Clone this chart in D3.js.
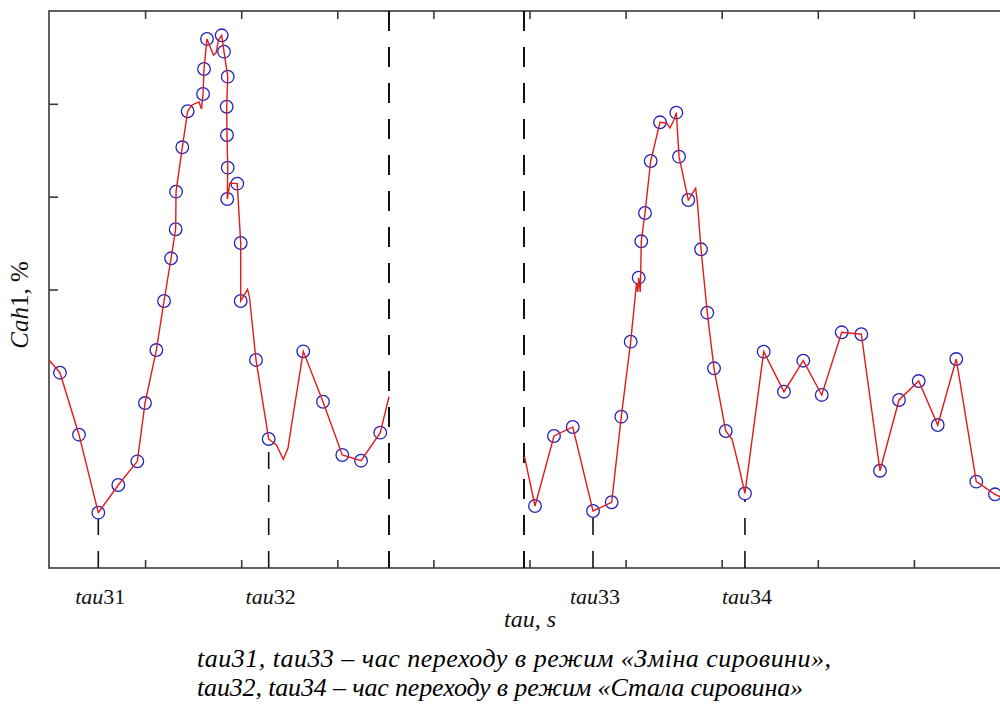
<!DOCTYPE html>
<html>
<head>
<meta charset="utf-8">
<script src="https://cdn.jsdelivr.net/npm/d3@7"></script>
<style>
  body { margin: 0; background: #fff; }
  svg { display: block; font-family: 'Liberation Serif', 'Times New Roman', serif; }
</style>
</head>
<body>
<svg id="chart" width="1000" height="704"></svg>
<script>
// x in tick units (one tick step = 1), y in Cah1 units (one tick step = 1)

// left part: sampled points (blue circles)
const sampleLeftT = [0.114, 0.312, 0.513, 0.721, 0.919, 0.999, 1.117, 1.197, 1.270, 1.318, 1.322,
  1.387, 1.443, 1.603, 1.613, 1.644, 1.797, 1.821, 1.860, 1.849, 1.852, 1.860, 1.855, 1.959,
  1.995, 1.995, 2.154, 2.286, 2.646, 2.851, 3.052, 3.247, 3.447]
const sampleLeftC = [2.104, 1.436, 0.596, 0.894, 1.149, 1.777, 2.348, 2.876, 3.336, 3.649, 4.054,
  4.532, 4.920, 5.106, 5.375, 5.699, 5.738, 5.562, 5.293, 4.969, 4.664, 4.312, 3.975, 4.140,
  3.501, 2.876, 2.241, 1.390, 2.334, 1.791, 1.217, 1.156, 1.458]

// left part: measured signal (red line)
const signalLeftT = [0.000, 0.114, 0.312, 0.513, 0.721, 0.919, 0.999, 1.117, 1.197, 1.270, 1.318,
  1.322, 1.387, 1.443, 1.488, 1.561, 1.587, 1.603, 1.613, 1.644, 1.712, 1.738, 1.764, 1.797,
  1.821, 1.860, 1.849, 1.852, 1.860, 1.855, 1.883, 1.959, 1.995, 1.995, 2.066, 2.086, 2.154,
  2.286, 2.367, 2.438, 2.487, 2.529, 2.646, 2.851, 3.052, 3.247, 3.447, 3.538]
const signalLeftC = [2.241, 2.104, 1.436, 0.596, 0.894, 1.149, 1.777, 2.348, 2.876, 3.336, 3.649,
  4.054, 4.532, 4.920, 4.988, 5.020, 4.945, 5.106, 5.375, 5.699, 5.526, 5.548, 5.688, 5.738,
  5.562, 5.293, 4.969, 4.664, 4.312, 3.975, 4.147, 4.140, 3.501, 2.876, 3.002, 2.919, 2.241,
  1.390, 1.325, 1.171, 1.293, 1.573, 2.334, 1.791, 1.217, 1.156, 1.458, 1.845]

// right part: sampled points (blue circles)
const sampleRightT = [5.057, 5.255, 5.450, 5.661, 5.855, 5.955, 6.053, 6.136, 6.163, 6.202, 6.261,
  6.358, 6.528, 6.556, 6.652, 6.785, 6.850, 6.920, 7.042, 7.242, 7.437, 7.648, 7.849, 8.041,
  8.249, 8.453, 8.647, 8.845, 9.050, 9.248, 9.441, 9.649, 9.844]
const sampleRightC = [0.668, 1.422, 1.519, 0.614, 0.708, 1.630, 2.438, 3.127, 3.519, 3.824, 4.384,
  4.801, 4.905, 4.431, 3.964, 3.433, 2.750, 2.151, 1.476, 0.803, 2.330, 1.899, 2.233, 1.864,
  2.539, 2.518, 1.048, 1.810, 2.014, 1.540, 2.251, 0.930, 0.794]

// right part: measured signal (red line)
const signalRightT = [4.948, 5.057, 5.255, 5.450, 5.661, 5.855, 5.955, 6.053, 6.113, 6.127, 6.136,
  6.153, 6.163, 6.202, 6.261, 6.358, 6.426, 6.462, 6.498, 6.528, 6.556, 6.652, 6.729, 6.748,
  6.785, 6.850, 6.920, 7.042, 7.107, 7.170, 7.242, 7.437, 7.648, 7.849, 8.041, 8.249, 8.453,
  8.647, 8.845, 9.050, 9.248, 9.441, 9.649, 9.844, 9.927]
const signalRightC = [1.199, 0.668, 1.422, 1.519, 0.614, 0.708, 1.630, 2.438, 3.059, 2.973, 3.127,
  2.973, 3.519, 3.824, 4.384, 4.801, 4.794, 4.740, 4.815, 4.905, 4.431, 3.964, 4.090, 3.932,
  3.433, 2.750, 2.151, 1.476, 1.390, 1.131, 0.803, 2.330, 1.899, 2.233, 1.864, 2.539, 2.518,
  1.048, 1.810, 2.014, 1.540, 2.251, 0.930, 0.794, 0.754]

// boundaries between the two parts (long dashed lines)
const splitT = [3.538, 4.943]

// switching moments tau31..tau34
const tauNames = ['31', '32', '33', '34']
const tauT = [0.513, 2.286, 5.661, 7.242]
const tauC = [0.596, 1.390, 0.614, 0.803]

// ticks without numbers
const xTicks = [1, 2, 3, 4, 5, 6, 7, 8, 9]
const yTicks = [3, 4, 5]

// caption under the chart
const captionLines = [
  'tau31, tau33 – час переходу в режим «Зміна сировини»,',
  'tau32, tau34 – час переходу в режим «Стала сировина»'
]

function makeChart() {
  const svg = d3.select('#chart')
  const margin = {top: 11, left: 49, right: -10, bottom: 136}
  const width = 1000
  const height = 704

  const x = d3.scaleLinear().domain([0, 10]).range([margin.left, width - margin.right])
  const y = d3.scaleLinear().domain([0, 6]).range([height - margin.bottom, margin.top])

  const axisColor = '#3a3a3a'

  // frame of the plot (right side is cut by the picture)
  svg.append('rect')
    .attr('x', x(0)).attr('y', y(6))
    .attr('width', x(10) - x(0)).attr('height', y(0) - y(6))
    .attr('fill', 'none').attr('stroke', axisColor).attr('stroke-width', 1.6)

  // inward ticks on bottom, top and left
  const styleAxis = g => {
    g.select('.domain').remove()
    g.selectAll('.tick line').attr('stroke', axisColor).attr('stroke-width', 1.6)
    g.selectAll('.tick text').remove()
  }
  svg.append('g').attr('transform', `translate(0,${y(0)})`)
    .call(d3.axisBottom(x).tickValues(xTicks).tickSize(-8)).call(styleAxis)
  svg.append('g').attr('transform', `translate(0,${y(6)})`)
    .call(d3.axisTop(x).tickValues(xTicks).tickSize(-8)).call(styleAxis)
  svg.append('g').attr('transform', `translate(${x(0)},0)`)
    .call(d3.axisLeft(y).tickValues(yTicks).tickSize(-9)).call(styleAxis)

  // long dashed lines between parts
  svg.selectAll('line.split')
    .data(splitT)
    .enter().append('line')
    .attr('class', 'split')
    .attr('x1', d => x(d)).attr('x2', d => x(d))
    .attr('y1', y(6)).attr('y2', y(0))
    .attr('stroke', '#111').attr('stroke-width', 2)
    .attr('stroke-dasharray', '20,16')

  // dashed drop lines at tau moments (drawn from the axis up)
  svg.selectAll('line.tau')
    .data(tauT)
    .enter().append('line')
    .attr('class', 'tau')
    .attr('x1', d => x(d)).attr('x2', d => x(d))
    .attr('y1', y(0)).attr('y2', (d, i) => y(tauC[i]) + 6)
    .attr('stroke', '#111').attr('stroke-width', 1.6)
    .attr('stroke-dasharray', '17,16')

  // blue circles
  const samples = sampleLeftT.map((t, i) => [t, sampleLeftC[i]])
    .concat(sampleRightT.map((t, i) => [t, sampleRightC[i]]))
  svg.append('g').selectAll('circle')
    .data(samples)
    .enter().append('circle')
    .attr('cx', d => x(d[0])).attr('cy', d => y(d[1]))
    .attr('r', 6.3)
    .attr('fill', 'none').attr('stroke', '#2323b8').attr('stroke-width', 1.3)

  // red signal lines
  const line = d3.line().x(d => x(d[0])).y(d => y(d[1]))
  const signals = [
    signalLeftT.map((t, i) => [t, signalLeftC[i]]),
    signalRightT.map((t, i) => [t, signalRightC[i]])
  ]
  svg.selectAll('path.signal')
    .data(signals)
    .enter().append('path')
    .attr('class', 'signal')
    .attr('d', line)
    .attr('fill', 'none').attr('stroke', '#e01b1b').attr('stroke-width', 1.4)

  // tau labels under the axis
  const tauLabels = svg.append('g').selectAll('text')
    .data(tauT)
    .enter().append('text')
    .attr('x', d => x(d) + 2).attr('y', 604)
    .attr('text-anchor', 'middle')
    .attr('font-size', 22)
    .attr('fill', '#111')
  tauLabels.append('tspan').attr('font-style', 'italic').text('tau')
  tauLabels.append('tspan').text((d, i) => tauNames[i])

  // x axis title
  svg.append('text')
    .attr('x', 530).attr('y', 627)
    .attr('text-anchor', 'middle')
    .attr('font-size', 24).attr('font-style', 'italic')
    .attr('fill', '#111')
    .text('tau, s')

  // y axis title
  const yTitle = svg.append('text')
    .attr('transform', 'translate(28,305) rotate(-90)')
    .attr('text-anchor', 'middle')
    .attr('font-size', 25)
    .attr('fill', '#111')
  yTitle.append('tspan').attr('font-style', 'italic').text('Cah')
  yTitle.append('tspan').text('1, %')

  // caption (the first line is set a little wider in the source)
  const captionWidth = [634, 606]
  svg.append('g').selectAll('text')
    .data(captionLines)
    .enter().append('text')
    .attr('x', 197).attr('y', (d, i) => 667 + i * 29)
    .attr('font-size', 26).attr('font-style', 'italic')
    .attr('textLength', (d, i) => captionWidth[i])
    .attr('lengthAdjust', 'spacing')
    .attr('fill', '#000')
    .text(d => d)
}

window.onload = makeChart
</script>
</body>
</html>
